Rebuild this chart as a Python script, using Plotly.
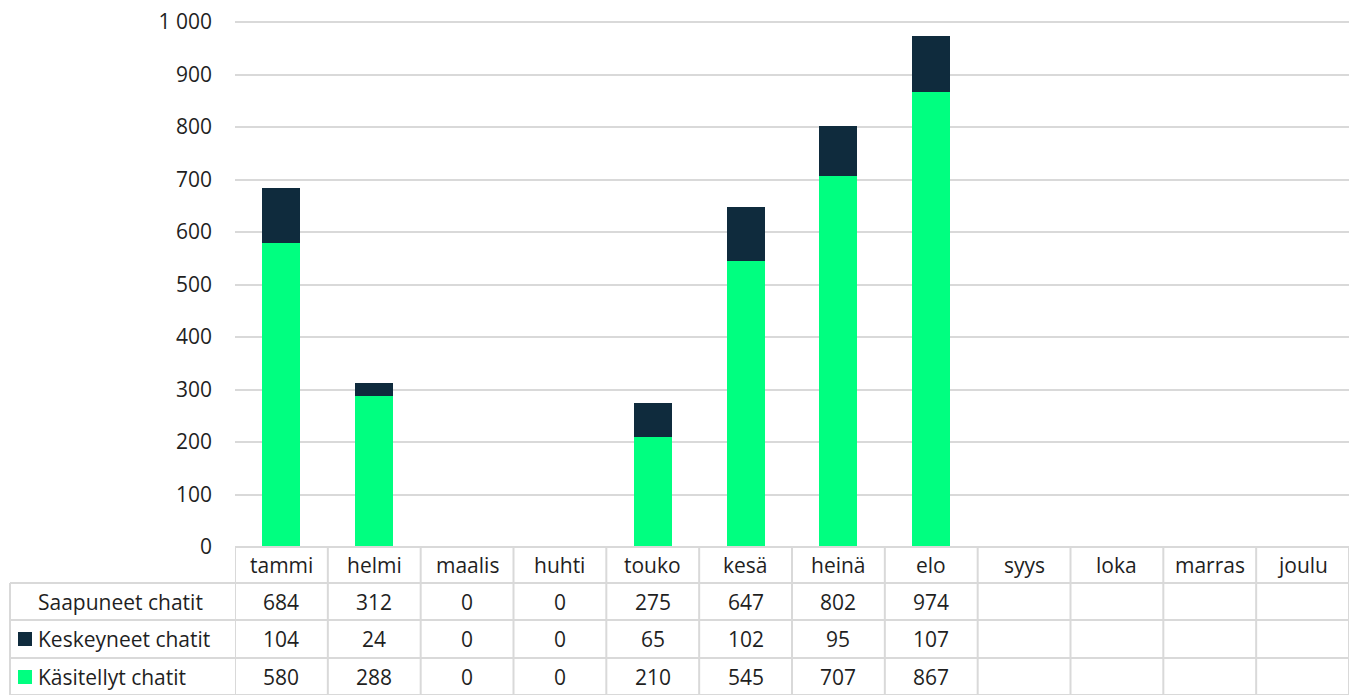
import plotly.graph_objects as go

months = ["tammi", "helmi", "maalis", "huhti", "touko", "kesä", "heinä", "elo", "syys", "loka", "marras", "joulu"]
saapuneet = [684, 312, 0, 0, 275, 647, 802, 974, None, None, None, None]
keskeyneet = [104, 24, 0, 0, 65, 102, 95, 107, None, None, None, None]
kasitellyt = [580, 288, 0, 0, 210, 545, 707, 867, None, None, None, None]
row_labels = ["Saapuneet chatit", "Keskeyneet chatit", "Käsitellyt chatit"]
y_ticks = [0, 100, 200, 300, 400, 500, 600, 700, 800, 900, 1000]

GREEN = "#00FF80"
NAVY = "#0F2B3D"
GRID = "#D9D9D9"
FONT = "Open Sans"
TXT = "#1F1F1F"
FS = 21

OFF = 8  # page body margin offset
W, H = 1359 - OFF, 695 - OFF
L, R, T, B = 235 - OFF, 10, 19 - OFF, 148
PW = W - L - R
PH = H - T - B
YMAX = 1000 * PH / 525.0  # keeps 1000 at the reference pixel row, with headroom for its gridline

def py(p):  # reference pixel y -> paper y
    return (H - B - (p - OFF)) / PH

def px(p):  # reference pixel x -> paper x
    return ((p - OFF) - L) / PW

fig = go.Figure()
xs = list(range(len(months)))
fig.add_bar(x=xs, y=kasitellyt, marker_color=GREEN, marker_line_width=0, name=row_labels[2], showlegend=False)
fig.add_bar(x=xs, y=keskeyneet, marker_color=NAVY, marker_line_width=0, name=row_labels[1], showlegend=False)

shapes = []
ann = []
line = dict(color=GRID, width=2)
row_tops = [547, 583, 620, 658, 695]
for i, yy in enumerate(row_tops):
    x0 = px(235) if i == 0 else px(10)
    shapes.append(dict(type="line", xref="paper", yref="paper", x0=x0, x1=1, y0=py(yy), y1=py(yy), line=line))
for i in range(len(months) + 1):
    xc = i - 0.5
    shapes.append(dict(type="line", xref="x", yref="paper", x0=xc, x1=xc, y0=py(547), y1=py(695), line=line))
shapes.append(dict(type="line", xref="paper", yref="paper", x0=px(10), x1=px(10), y0=py(583), y1=py(695), line=line))

for i, m in enumerate(months):
    ann.append(dict(x=i, xref="x", y=py(565), yref="paper", text=m, showarrow=False,
                    font=dict(size=FS, color=TXT, family=FONT), xanchor="center", yanchor="middle"))
series = [saapuneet, keskeyneet, kasitellyt]
row_centers = [602, 639, 677]
for r, (vals, yc) in enumerate(zip(series, row_centers)):
    for i, v in enumerate(vals):
        if v is None:
            continue
        ann.append(dict(x=i, xref="x", y=py(yc), yref="paper", text=str(v), showarrow=False,
                        font=dict(size=FS, color=TXT, family=FONT), xanchor="center", yanchor="middle"))
    ann.append(dict(x=px(36), xref="paper", y=py(yc), yref="paper", text=row_labels[r], showarrow=False,
                    font=dict(size=FS, color=TXT, family=FONT), xanchor="left", yanchor="middle"))

for col, yc in [(NAVY, 639), (GREEN, 677)]:
    shapes.append(dict(type="rect", xref="paper", yref="paper", x0=px(18), x1=px(32), y0=py(yc - 7), y1=py(yc + 7),
                       fillcolor=col, line=dict(width=0)))

fig.update_layout(
    width=W, height=H,
    margin=dict(l=L, r=R, t=T, b=B, autoexpand=False),
    barmode="stack",
    bargap=0.59,
    plot_bgcolor="white", paper_bgcolor="white",
    separators=", ",
    font=dict(family=FONT, size=FS, color=TXT),
    shapes=shapes, annotations=ann,
    showlegend=False,
)
fig.update_xaxes(range=[-0.5, len(months) - 0.5], showticklabels=False, showgrid=False, automargin=False,
                 zeroline=False, showline=False, ticks="")
fig.update_yaxes(range=[0, YMAX], tickmode="array", tickvals=y_ticks, tickformat=",d", automargin=False,
                 showgrid=True, gridcolor=GRID, gridwidth=2, ticklabeloverflow="allow",
                 zeroline=False, showline=False, ticks="", ticklabelstandoff=22,
                 tickfont=dict(size=FS, color=TXT, family=FONT))

fig.write_html("out.html")
